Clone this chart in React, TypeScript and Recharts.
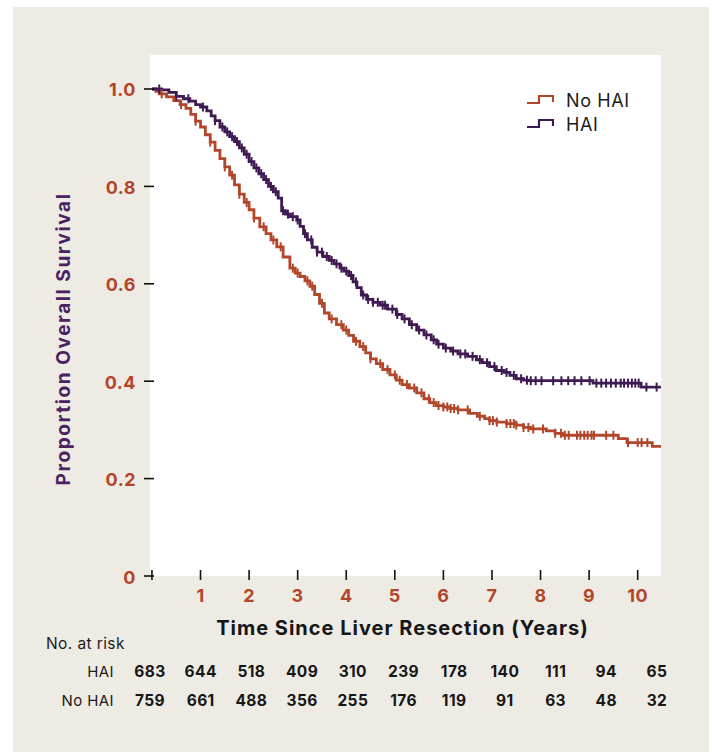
import { ComposedChart, Line, Scatter, XAxis, YAxis, ReferenceArea } from 'recharts';

// Kaplan-Meier estimates (years, proportion surviving)
const haiTime = [
  0, 0.1, 0.2, 0.35, 0.5, 0.65, 0.78, 0.9, 1.0, 1.13, 1.22, 1.3, 1.4, 1.5, 1.6, 1.7, 1.8, 1.9, 2.0, 2.1,
  2.2, 2.3, 2.4, 2.5, 2.6, 2.67, 2.75, 2.85, 2.98, 3.05, 3.12, 3.2, 3.3, 3.4, 3.52, 3.65, 3.75, 3.87, 3.95,
  4.05, 4.14, 4.22, 4.31, 4.42, 4.55, 4.7, 4.85, 5.03, 5.15, 5.3, 5.45, 5.6, 5.75, 5.86, 6.0, 6.15, 6.3,
  6.5, 6.68, 6.8, 6.95, 7.09, 7.25, 7.37, 7.5, 7.65, 7.75, 9.08, 10.07, 10.48,
];
const haiSurvival = [
  1.0, 1.0, 0.998, 0.993, 0.985, 0.98, 0.975, 0.968, 0.963, 0.955, 0.945, 0.935, 0.922, 0.912, 0.902, 0.892,
  0.879, 0.866, 0.851, 0.838, 0.826, 0.814, 0.8, 0.789, 0.776, 0.75, 0.743, 0.738, 0.731, 0.718, 0.703, 0.69,
  0.675, 0.665, 0.656, 0.648, 0.641, 0.632, 0.626, 0.617, 0.604, 0.592, 0.577, 0.568, 0.562, 0.556, 0.548,
  0.537, 0.528, 0.516, 0.505, 0.495, 0.485, 0.476, 0.468, 0.462, 0.456, 0.451, 0.444, 0.438, 0.43, 0.422,
  0.418, 0.412, 0.405, 0.402, 0.401, 0.396, 0.388, 0.388,
];

const noHaiTime = [
  0, 0.08, 0.15, 0.3, 0.45, 0.58, 0.7, 0.8, 0.9, 1.0, 1.1, 1.2, 1.3, 1.4, 1.5, 1.6, 1.7, 1.8, 1.9, 2.0, 2.1,
  2.22, 2.35, 2.45, 2.57, 2.7, 2.84, 2.95, 3.05, 3.15, 3.25, 3.35, 3.45, 3.55, 3.65, 3.8, 3.94, 4.05, 4.15,
  4.28, 4.4, 4.5, 4.62, 4.75, 4.9, 5.03, 5.15, 5.3, 5.45, 5.6, 5.72, 5.85, 6.0, 6.13, 6.3, 6.54, 6.7, 6.85,
  6.95, 7.1, 7.3, 7.5, 7.65, 7.8, 8.12, 8.3, 8.45, 9.6, 9.78, 10.3, 10.48,
];
const noHaiSurvival = [
  1.0, 0.995, 0.99, 0.984, 0.976, 0.968, 0.96, 0.948, 0.934, 0.922, 0.906, 0.891, 0.874, 0.857, 0.84, 0.823,
  0.803, 0.784, 0.767, 0.752, 0.735, 0.717, 0.703, 0.69, 0.676, 0.655, 0.632, 0.622, 0.615, 0.606, 0.595,
  0.578, 0.56, 0.54, 0.528, 0.516, 0.505, 0.494, 0.482, 0.471, 0.458, 0.446, 0.436, 0.424, 0.413, 0.402,
  0.393, 0.386, 0.376, 0.364, 0.356, 0.35, 0.347, 0.344, 0.341, 0.334, 0.328, 0.323, 0.319, 0.316, 0.313,
  0.31, 0.305, 0.302, 0.298, 0.293, 0.289, 0.282, 0.274, 0.266, 0.266,
];

// censored observations (tick marks on the curves)
const haiCensor = [
  0.15, 0.5, 0.75, 1.05, 1.3, 1.45, 1.55, 1.65, 1.75, 1.85, 1.95, 2.05, 2.15, 2.25, 2.35, 2.45, 2.55, 2.7,
  2.8, 2.9, 3.0, 3.15, 3.28, 3.4, 3.5, 3.6, 3.7, 3.8, 3.9, 4.0, 4.1, 4.2, 4.35, 4.45, 4.55, 4.65, 4.75, 4.8,
  4.95, 5.05, 5.2, 5.35, 5.5, 5.65, 5.8, 5.9, 6.05, 6.2, 6.35, 6.45, 6.6, 6.75, 6.9, 7.05, 7.2, 7.3, 7.45,
  7.6, 7.72, 7.8, 7.9, 8.02, 8.26, 8.43, 8.57, 8.7, 8.84, 9.01, 9.15, 9.25, 9.35, 9.45, 9.55, 9.65, 9.72,
  9.8, 9.88, 9.95, 10.02, 10.18, 10.39,
];
const noHaiCensor = [
  0.2, 0.6, 0.9, 1.2, 1.5, 1.65, 1.8, 1.95, 2.1, 2.3, 2.5, 2.65, 2.9, 3.0, 3.2, 3.3, 3.5, 3.7, 3.9, 4.0, 4.2,
  4.35, 4.5, 4.7, 4.85, 5.0, 5.1, 5.25, 5.4, 5.55, 5.7, 5.8, 5.9, 6.0, 6.08, 6.15, 6.22, 6.3, 6.5, 6.75,
  6.95, 7.02, 7.1, 7.3, 7.38, 7.45, 7.5, 7.65, 7.75, 7.85, 8.05, 8.3, 8.42, 8.5, 8.58, 8.75, 8.82, 8.9,
  8.97, 9.05, 9.1, 9.35, 9.5, 9.8, 10.0, 10.08, 10.2,
];

const yearTicks = [0, 1, 2, 3, 4, 5, 6, 7, 8, 9, 10];
const survivalTicks = [0, 0.2, 0.4, 0.6, 0.8, 1.0];

const atRiskHai = [683, 644, 518, 409, 310, 239, 178, 140, 111, 94, 65];
const atRiskNoHai = [759, 661, 488, 356, 255, 176, 119, 91, 63, 48, 32];

const ORANGE = '#b2462b';
const PURPLE = '#3f1a52';
const BEIGE = '#eeebe5';
const FONT = 'Inter, "DejaVu Sans", sans-serif';

const toPoints = (times: number[], surv: number[]) => times.map((t, i) => ({ t, s: surv[i] }));

const stepAt = (times: number[], surv: number[], t: number) => {
  let v = surv[0];
  for (let i = 0; i < times.length; i++) if (times[i] <= t) v = surv[i];
  return v;
};

const censorPoints = (censor: number[], times: number[], surv: number[]) =>
  censor.map((t) => ({ t, s: stepAt(times, surv, t) }));

const haiData = toPoints(haiTime, haiSurvival);
const noHaiData = toPoints(noHaiTime, noHaiSurvival);
const haiMarks = censorPoints(haiCensor, haiTime, haiSurvival);
const noHaiMarks = censorPoints(noHaiCensor, noHaiTime, noHaiSurvival);

const censorShape = (color: string) => (props: any) => {
  const { cx, cy } = props;
  return <line x1={cx} x2={cx} y1={cy - 4.5} y2={cy + 4.5} stroke={color} strokeWidth={2} />;
};

function YTick({ x, y, payload }: any) {
  const v = payload.value;
  return (
    <g>
      <line x1={x - 6} x2={x + 4} y1={y} y2={y} stroke="#111" strokeWidth={1.6} />
      <text x={x - 14} y={y + 1} textAnchor="end" dominantBaseline="central" fill={ORANGE}
        fontSize={18} fontWeight={700} fontFamily={FONT} letterSpacing={0.5}>
        {v === 0 ? '0' : v.toFixed(1)}
      </text>
    </g>
  );
}

function XTick({ x, y, payload }: any) {
  const v = payload.value;
  return (
    <g>
      <line x1={x} x2={x} y1={y - 6} y2={y + 4} stroke="#111" strokeWidth={1.6} />
      {v !== 0 && (
        <text x={x} y={y + 19} textAnchor="middle" dominantBaseline="central" fill={ORANGE}
          fontSize={18} fontWeight={700} fontFamily={FONT} letterSpacing={0.5}>
          {v}
        </text>
      )}
    </g>
  );
}

function StepIcon({ color }: { color: string }) {
  return (
    <svg width={28} height={12} style={{ display: 'block' }}>
      <polyline points="1,9 13,9 13,2 27,2 27,8" fill="none" stroke={color} strokeWidth={2.2} />
    </svg>
  );
}

const legendItems = [
  { name: 'No HAI', color: ORANGE },
  { name: 'HAI', color: PURPLE },
];

export default function App() {
  return (
    <div style={{ position: 'absolute', left: 0, top: 0, width: 712, height: 752, background: '#fff', overflow: 'hidden', fontFamily: FONT }}>
      <div style={{ position: 'absolute', left: 13, top: 7, width: 696, height: 745, background: BEIGE }} />
      <div style={{ position: 'absolute', left: 0, top: 0 }}>
        <ComposedChart width={712} height={752} margin={{ top: 55, right: 51, bottom: 146, left: 90 }}>
          <XAxis
            dataKey="t"
            type="number"
            domain={[-0.04, 10.48]}
            ticks={yearTicks}
            allowDataOverflow
            axisLine={false}
            tickLine={false}
            tickSize={0}
            tickMargin={0}
            height={30}
            tick={<XTick />}
            label={{
              content: ({ viewBox }: any) => (
                <text x={viewBox.x + viewBox.width / 2 - 3} y={viewBox.y + 52} textAnchor="middle" dominantBaseline="central"
                  fill="#161616" fontSize={20} fontWeight={700} fontFamily={FONT} letterSpacing={1}>
                  Time Since Liver Resection (Years)
                </text>
              ),
            }}
          />
          <YAxis
            dataKey="s"
            type="number"
            domain={[0, 1.0698]}
            ticks={survivalTicks}
            allowDataOverflow
            axisLine={false}
            tickLine={false}
            tickSize={0}
            tickMargin={0}
            width={60}
            tick={<YTick />}
            label={{
              content: ({ viewBox }: any) => {
                const cx = viewBox.x - 27;
                const cy = viewBox.y + 284;
                return (
                  <text x={cx} y={cy} transform={`rotate(-90, ${cx}, ${cy})`} textAnchor="middle" dominantBaseline="central"
                    fill="#4a2262" fontSize={19} fontWeight={700} fontFamily={FONT} letterSpacing={1.6}>
                    Proportion Overall Survival
                  </text>
                );
              },
            }}
          />
          <ReferenceArea x1={-0.04} x2={10.48} y1={0} y2={1.0698} fill="#ffffff" fillOpacity={1} stroke="none" ifOverflow="visible" />
          <Line data={noHaiData} dataKey="s" type="stepAfter" stroke={ORANGE} strokeWidth={2.8} dot={false} isAnimationActive={false} name="No HAI" />
          <Line data={haiData} dataKey="s" type="stepAfter" stroke={PURPLE} strokeWidth={2.8} dot={false} isAnimationActive={false} name="HAI" />
          <Scatter data={noHaiMarks} dataKey="s" shape={censorShape(ORANGE)} isAnimationActive={false} legendType="none" />
          <Scatter data={haiMarks} dataKey="s" shape={censorShape(PURPLE)} isAnimationActive={false} legendType="none" />
        </ComposedChart>
      </div>
      <div style={{ position: 'absolute', left: 526, top: 88 }}>
        {legendItems.map((it) => (
          <div key={it.name} style={{ display: 'flex', alignItems: 'center', height: 24 }}>
            <StepIcon color={it.color} />
            <span style={{ marginLeft: 12, fontSize: 18, letterSpacing: 0.6, color: '#1c1c1c' }}>{it.name}</span>
          </div>
        ))}
      </div>
      <div style={{ position: 'absolute', left: 46, top: 634, fontSize: 15.5, letterSpacing: 0.4, color: '#1c1c1c' }}>No. at risk</div>
      {[
        { label: 'HAI', values: atRiskHai, top: 662 },
        { label: 'No HAI', values: atRiskNoHai, top: 691 },
      ].map((row) => (
        <div key={row.label}>
          <div style={{ position: 'absolute', right: 712 - 114, top: row.top, fontSize: 15, letterSpacing: 0.4, color: '#1c1c1c', lineHeight: '20px' }}>
            {row.label}
          </div>
          {row.values.map((v, i) => (
            <div key={i} style={{ position: 'absolute', left: 150 + 50.7 * i - 25, width: 50, top: row.top, textAlign: 'center',
              fontSize: 15.5, fontWeight: 700, letterSpacing: 0.4, color: '#161616', lineHeight: '20px' }}>
              {v}
            </div>
          ))}
        </div>
      ))}
    </div>
  );
}
